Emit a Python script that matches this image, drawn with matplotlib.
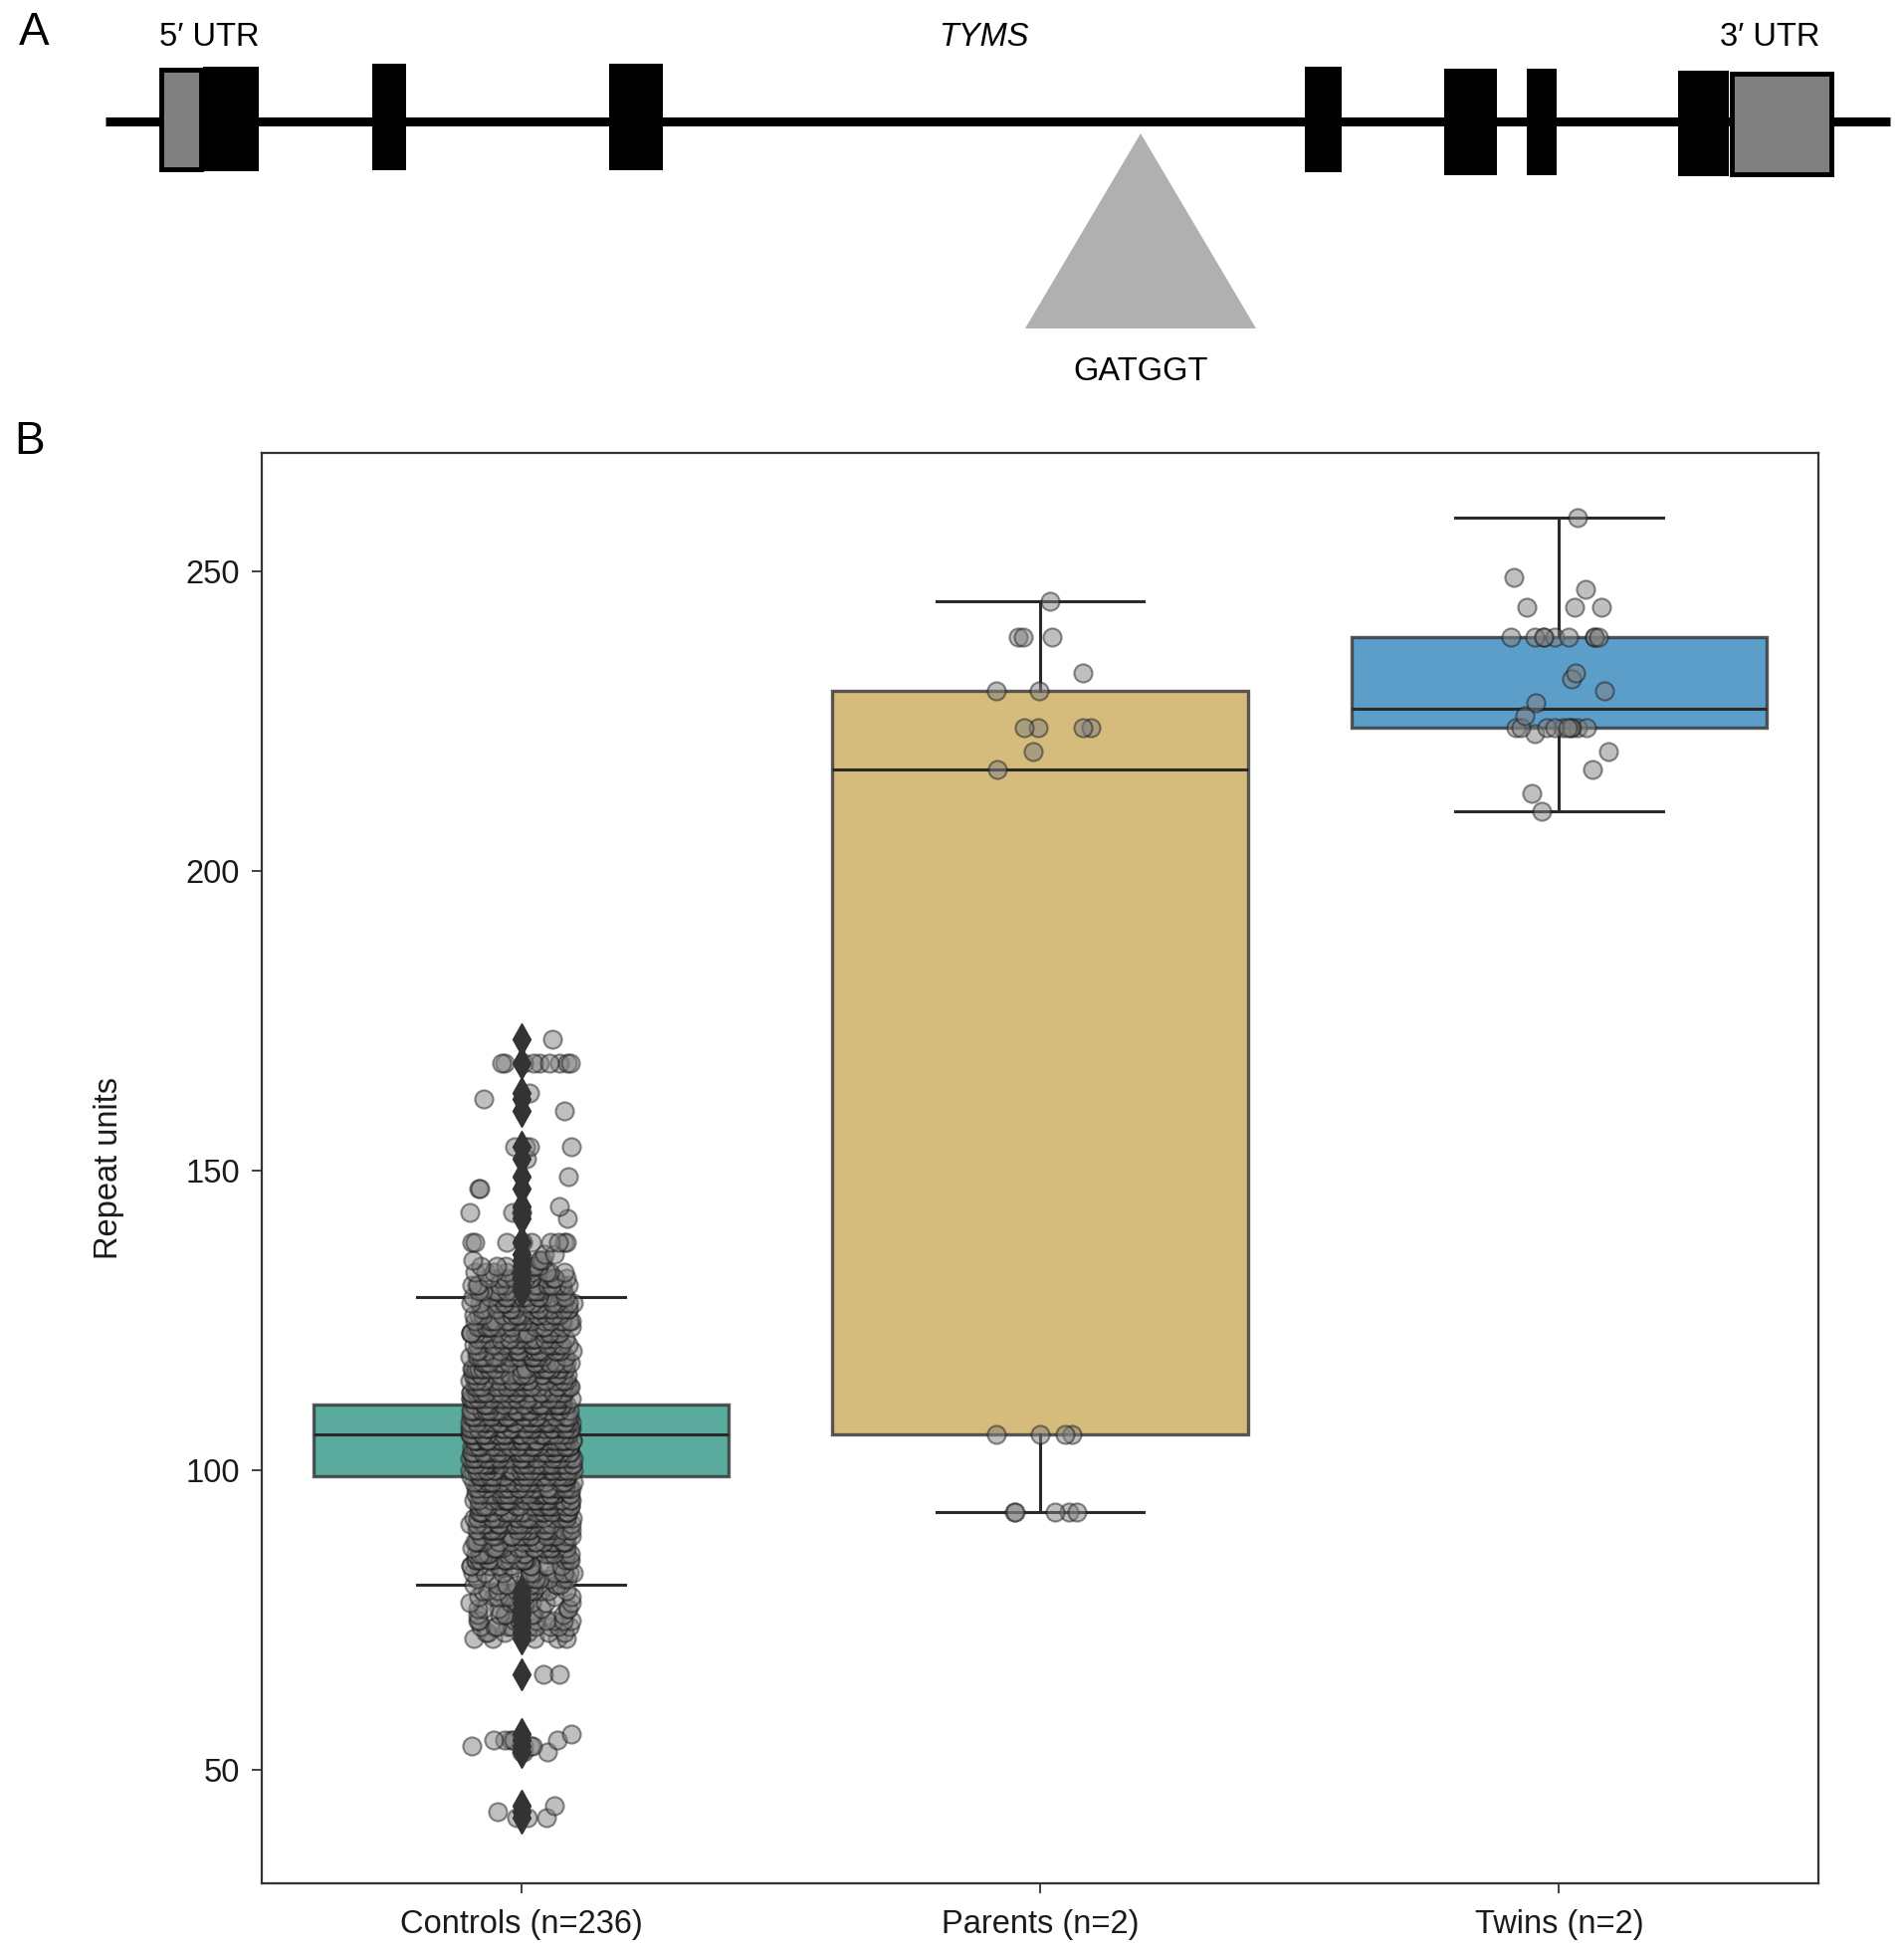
import numpy as np
import matplotlib
matplotlib.use("Agg")
import matplotlib.pyplot as plt
from matplotlib.patches import Rectangle, Polygon

plt.rcParams['font.family'] = ['Liberation Sans', 'DejaVu Sans']

# ---------------- data ----------------
categories = ["Controls (n=236)", "Parents (n=2)", "Twins (n=2)"]

controls_values = [42, 43, 44, 53, 54, 55, 56, 66,
                   72, 73, 74, 75, 76, 77, 78, 79, 80,
                   81, 82, 83, 84, 85, 86, 87, 88, 89, 90,
                   91, 92, 93, 94, 95, 96, 97, 98, 99, 100,
                   101, 102, 103, 104, 105, 106, 107, 108, 109, 110,
                   111, 112, 113, 114, 115, 116, 117, 118, 119, 120,
                   121, 122, 123, 124, 125, 126, 127, 128, 129, 130,
                   131, 132, 133, 134, 135, 136, 138, 142, 143, 144,
                   147, 149, 152, 154, 160, 162, 163, 168, 172]
controls_counts = [3, 1, 1, 3, 4, 5, 1, 2,
                   5, 6, 10, 10, 8, 7, 8, 8, 10,
                   11, 10, 10, 13, 22, 17, 17, 20, 20, 22,
                   22, 25, 25, 28, 28, 30, 30, 34, 36, 38,
                   38, 40, 40, 42, 42, 44, 42, 40, 38, 36,
                   34, 30, 28, 25, 22, 22, 21, 21, 21, 21,
                   21, 21, 20, 18, 18, 18, 18, 17, 16, 14,
                   14, 13, 10, 7, 4, 2, 9, 1, 3, 1,
                   2, 1, 1, 4, 1, 1, 1, 9, 1]

parents_values = [93, 106, 217, 220, 224, 230, 233, 239, 245]
parents_counts = [5, 4, 1, 1, 4, 2, 1, 3, 1]

twins_values = [210, 213, 217, 220, 223, 224, 226, 228, 230, 232, 233, 239, 244, 247, 249, 259]
twins_counts = [1, 1, 1, 1, 1, 10, 1, 1, 1, 1, 1, 9, 3, 1, 1, 1]

# box statistics
box_q1 = [99, 106, 224]
box_median = [106, 217, 227]
box_q3 = [111, 230, 239]
box_whislo = [81, 93, 210]
box_whishi = [129, 245, 259]

box_colors = ["#5aab9e", "#d6bc7c", "#5b9ec9"]
yticks = [50, 100, 150, 200, 250]

# gene schematic (panel A, pixel-like units)
gene_span = [106, 1899]
exon_starts = [204, 374, 612, 1311, 1451, 1534, 1686]
exon_ends = [260, 408, 666, 1348, 1504, 1564, 1737]
exon_tops = [67, 64, 64, 67, 69, 69, 71]
exon_bottoms = [172, 171, 171, 173, 176, 176, 177]
utr_starts = [159, 1737]
utr_ends = [204, 1842]
utr_tops = [67, 71]
utr_bottoms = [172, 177]
insert_pos = 1146

# ---------------- figure ----------------
W, H = 1913, 1963
fig = plt.figure(figsize=(W / 100, H / 100), dpi=100)

# Panel A
axA = fig.add_axes([0, 1 - 400 / H, 1, 400 / H])
axA.set_xlim(0, W)
axA.set_ylim(400, 0)
axA.axis('off')
axA.plot(gene_span, [121.5, 121.5], color='black', lw=6.5, solid_capstyle='butt', zorder=1)
for x0, x1, t, b in zip(exon_starts, exon_ends, exon_tops, exon_bottoms):
    axA.add_patch(Rectangle((x0, t), x1 - x0, b - t, facecolor='black', edgecolor='none', zorder=2))
for x0, x1, t, b in zip(utr_starts, utr_ends, utr_tops, utr_bottoms):
    axA.add_patch(Rectangle((x0 + 2.5, t + 2.5), x1 - x0 - 5, b - t - 5, facecolor='#808080',
                            edgecolor='black', lw=3.5, zorder=3))
axA.add_patch(Polygon([(insert_pos, 134), (insert_pos - 116, 330), (insert_pos + 116, 330)],
                      closed=True, facecolor='#b0b0b0', edgecolor='none', zorder=2))
axA.text(210, 38, "5\u2032 UTR", ha='center', va='center', fontsize=23.5)
axA.text(988, 38, "TYMS", ha='center', va='center', fontsize=23.5, style='italic')
axA.text(1778, 38, "3\u2032 UTR", ha='center', va='center', fontsize=23.5)
axA.text(insert_pos, 373, "GATGGT", ha='center', va='center', fontsize=23.5)

fig.text(34 / W, 1 - 33 / H, "A", ha='center', va='center', fontsize=33)
fig.text(30 / W, 1 - 444 / H, "B", ha='center', va='center', fontsize=33)

# Panel B
ax = fig.add_axes([263 / W, 1 - 1891.7 / H, (1827 - 263) / W, (1891.7 - 454.5) / H])

groups = [np.repeat(controls_values, controls_counts),
          np.repeat(parents_values, parents_counts),
          np.repeat(twins_values, twins_counts)]

stats = []
for i, g in enumerate(groups):
    g = np.asarray(g, dtype=float)
    fl = g[(g < box_whislo[i]) | (g > box_whishi[i])]
    stats.append(dict(med=box_median[i], q1=box_q1[i], q3=box_q3[i],
                      whislo=box_whislo[i], whishi=box_whishi[i],
                      fliers=np.unique(fl), label=categories[i]))

line_col = '#2a2a2a'
bp = ax.bxp(stats, positions=[0, 1, 2], widths=0.8, patch_artist=True,
            boxprops=dict(edgecolor=(0.2, 0.2, 0.2, 0.8), linewidth=2.4),
            whiskerprops=dict(color=line_col, linewidth=2.2),
            capprops=dict(color=line_col, linewidth=2.2),
            medianprops=dict(color=line_col, linewidth=2.2),
            flierprops=dict(marker='d', markerfacecolor='#333333', markeredgecolor='#333333',
                            markersize=16, linestyle='none'))
for patch, c in zip(bp['boxes'], box_colors):
    patch.set_facecolor(c)
    patch.set_zorder(1)
for key in ['whiskers', 'caps', 'medians']:
    for ln in bp[key]:
        ln.set_zorder(2)
for ln in bp['fliers']:
    ln.set_zorder(4)


def jitter_offsets(n, amount=0.1, seed_shift=0.0):
    # deterministic hash-style scatter of strip positions (layout only)
    k = np.arange(n) + 1.0 + seed_shift
    u = (np.sin(k * 12.9898 + 78.233) * 43758.5453) % 1.0
    return amount * (2 * u - 1)


for i, g in enumerate(groups):
    x = i + jitter_offsets(len(g), seed_shift=37.0 * i)
    ax.scatter(x, g, s=170, facecolor='gray', edgecolor='#1a1a1a', linewidths=1.5,
               alpha=0.5, zorder=3)

ax.set_xlim(-0.5, 2.5)
allv = np.concatenate(groups)
rng = allv.max() - allv.min()
ax.set_ylim(allv.min() - 0.05 * rng, allv.max() + 0.05 * rng)
ax.set_xticks([0, 1, 2])
ax.set_xticklabels(categories)
ax.set_yticks(yticks)
ax.tick_params(axis='both', labelsize=23.5, length=7, width=1.3, color='#333333',
               labelcolor='#1a1a1a')
ax.tick_params(axis='y', pad=9)
ax.tick_params(axis='x', pad=12)
for sp in ax.spines.values():
    sp.set_color('#333333')
    sp.set_linewidth(1.6)
ax.set_ylabel("Repeat units", fontsize=23.5, color='#1a1a1a')
ax.yaxis.set_label_coords(-0.088, 0.5)

fig.savefig("out.png", dpi=100)
